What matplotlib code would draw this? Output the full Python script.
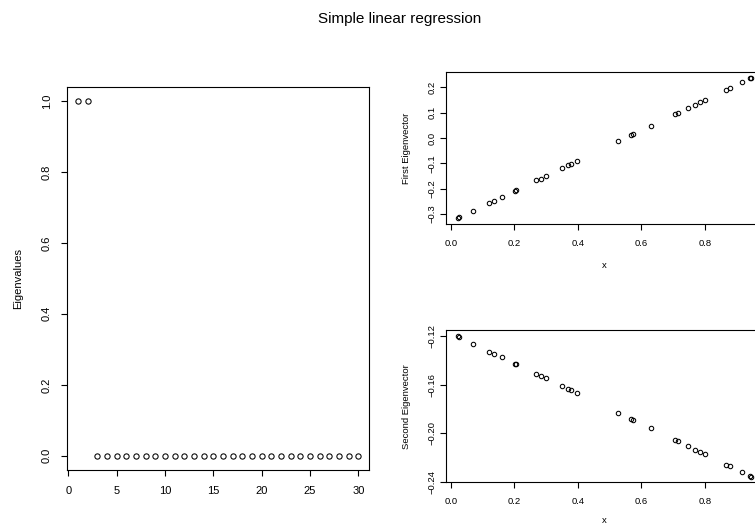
import numpy as np
import matplotlib
matplotlib.use("Agg")
import matplotlib.pyplot as plt

plt.rcParams['font.family'] = ['Liberation Sans', 'DejaVu Sans']

# eigenvalues of the hat matrix, n = 30
eig_index = list(range(1, 31))
eig_values = [1.0, 1.0] + [0.0] * 28

# predictor values and the two leading eigenvectors
x_vals = [0.021, 0.026, 0.070, 0.121, 0.135, 0.161, 0.203, 0.205, 0.269, 0.283,
          0.299, 0.349, 0.368, 0.379, 0.396, 0.527, 0.568, 0.575, 0.630, 0.707,
          0.714, 0.748, 0.770, 0.784, 0.800, 0.867, 0.878, 0.918, 0.943, 0.946]
first_vec = [-0.317, -0.313, -0.287, -0.257, -0.249, -0.233, -0.207, -0.206, -0.167, -0.160,
             -0.150, -0.120, -0.108, -0.103, -0.091, -0.013, 0.011, 0.015, 0.048, 0.094,
             0.099, 0.119, 0.132, 0.140, 0.150, 0.191, 0.196, 0.220, 0.236, 0.238]
second_vec = [-0.1197, -0.1205, -0.1263, -0.1328, -0.1345, -0.1375, -0.1429, -0.1431, -0.1511, -0.1527,
              -0.1549, -0.1609, -0.1634, -0.1644, -0.1669, -0.1833, -0.1882, -0.1890, -0.1958, -0.2056,
              -0.2064, -0.2105, -0.2135, -0.2149, -0.2171, -0.2258, -0.2269, -0.2318, -0.2353, -0.2355]

W, H = 755, 525
fig = plt.figure(figsize=(W / 100, H / 100), dpi=100)
fig.patch.set_facecolor('white')


def px_axes(left, right, top, bottom):
    return fig.add_axes([left / W, (H - bottom) / H, (right - left) / W, (bottom - top) / H])


def r_style(ax, fs, xpad, ypad):
    for s in ax.spines.values():
        s.set_linewidth(0.8)
        s.set_color('black')
    ax.tick_params(direction='out', length=4.5, width=0.8, labelsize=fs)
    ax.tick_params(axis='x', pad=xpad)
    ax.tick_params(axis='y', pad=ypad)
    for lab in ax.get_yticklabels():
        lab.set_rotation(90)
        lab.set_va('center')


fig.text(400 / W, 1 - 19 / H, 'Simple linear regression', ha='center', va='center', fontsize=11)

# eigenvalue plot
ax1 = px_axes(66.7, 369, 86.7, 470)
ax1.plot(eig_index, eig_values, 'o', mfc='none', mec='black', ms=3.8, mew=0.75)
ax1.set_xlim(-0.17, 31.1)
ax1.set_ylim(-0.04, 1.04)
ax1.set_xticks([0, 5, 10, 15, 20, 25, 30])
ax1.set_yticks([0.0, 0.2, 0.4, 0.6, 0.8, 1.0])
ax1.set_yticklabels(['0.0', '0.2', '0.4', '0.6', '0.8', '1.0'])
r_style(ax1, 8, 7, 6)
ax1.set_ylabel('Eigenvalues', fontsize=8, ha='center', va='center')
ax1.yaxis.set_label_coords((18.3 - 66.7) / 302.3, 0.5)

# first eigenvector
ax2 = px_axes(446, 763, 72.3, 224)
ax2.plot(x_vals, first_vec, 'o', mfc='none', mec='black', ms=3.2, mew=0.75)
ax2.set_xlim(-0.0157, 0.983)
ax2.set_ylim(-0.339, 0.259)
ax2.set_xticks([0.0, 0.2, 0.4, 0.6, 0.8])
ax2.set_xticklabels(['0.0', '0.2', '0.4', '0.6', '0.8'])
ax2.set_yticks([-0.3, -0.2, -0.1, 0.0, 0.1, 0.2])
ax2.set_yticklabels(['\u22120.3', '\u22120.2', '\u22120.1', '0.0', '0.1', '0.2'])
r_style(ax2, 6.8, 6, 2.5)
ax2.set_xlabel('x', fontsize=6.8, ha='center', va='center')
ax2.xaxis.set_label_coords(0.5, (224 - 265) / 151.7)
ax2.set_ylabel('First Eigenvector', fontsize=6.8, ha='center', va='center')
ax2.yaxis.set_label_coords((406.7 - 446) / 317, 0.5)

# second eigenvector
ax3 = px_axes(446, 763, 330, 482.3)
ax3.plot(x_vals, second_vec, 'o', mfc='none', mec='black', ms=3.2, mew=0.75)
ax3.set_xlim(-0.0157, 0.983)
ax3.set_ylim(-0.2401, -0.1151)
ax3.set_xticks([0.0, 0.2, 0.4, 0.6, 0.8])
ax3.set_xticklabels(['0.0', '0.2', '0.4', '0.6', '0.8'])
ax3.set_yticks([-0.24, -0.20, -0.16, -0.12])
ax3.set_yticklabels(['\u22120.24', '\u22120.20', '\u22120.16', '\u22120.12'])
r_style(ax3, 6.8, 6, 2.5)
ax3.set_xlabel('x', fontsize=6.8, ha='center', va='center')
ax3.xaxis.set_label_coords(0.5, (482.3 - 520.5) / 152.3)
ax3.set_ylabel('Second Eigenvector', fontsize=6.8, ha='center', va='center')
ax3.yaxis.set_label_coords((406.7 - 446) / 317, 0.5)

fig.savefig('out.png', dpi=100)
